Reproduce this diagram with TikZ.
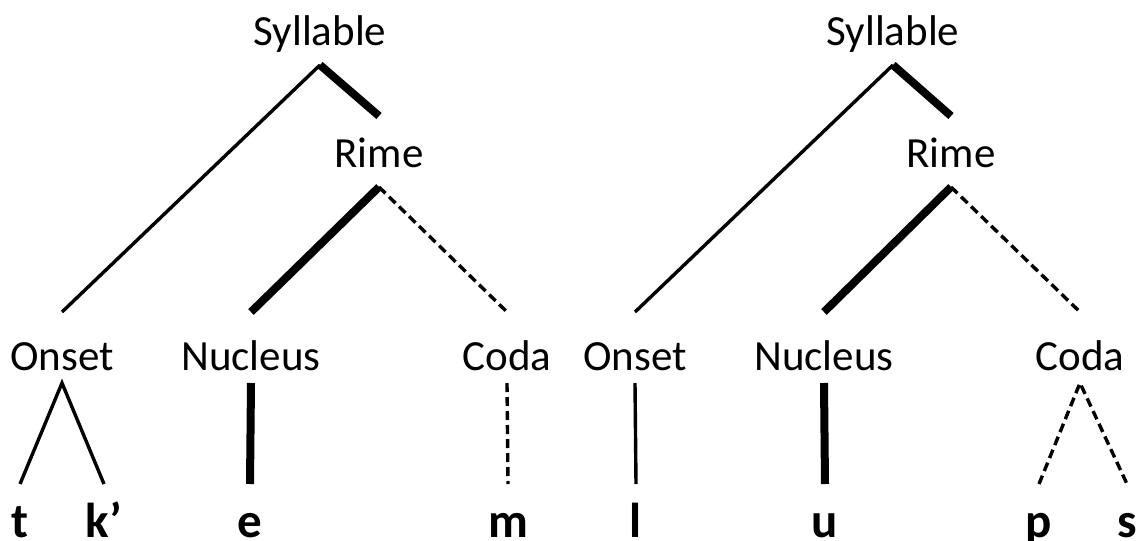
\documentclass[tikz,border=0pt]{standalone}
\usepackage{fontspec}
\setmainfont{Carlito}
\begin{document}
\begin{tikzpicture}[x=1pt,y=-1pt,
  lbl/.style={inner sep=0pt, outer sep=0pt, anchor=base, font=\fontsize{43}{50}\selectfont},
  toplbl/.style={lbl, text height=32pt, text depth=20pt},
  rimelbl/.style={lbl, text height=51pt, text depth=20pt},
  midlbl/.style={lbl, text height=58pt, text depth=13pt},
  leaf/.style={inner sep=0pt, outer sep=0pt, anchor=base, font=\fontsize{49}{56}\selectfont\bfseries, text height=53pt, text depth=0pt},
  thinline/.style={line width=3.4pt},
  thickline/.style={line width=8pt},
  dashline/.style={line width=3.4pt, dash pattern=on 9pt off 5pt}]
\useasboundingbox (0,0) rectangle (1136,541);
% left tree
\node[toplbl] (SylL) at (320,45) {Syllable};
\node[rimelbl] (RimeL) at (379,167) {Rime};
\node[midlbl] (OnL) at (62,370) {Onset};
\node[midlbl] (NucL) at (251,370) {Nucleus};
\node[midlbl] (CodL) at (507,370) {Coda};
\node[leaf] (tL) at (20,537) {t};
\node[leaf] (kL) at (104,537) {k’};
\node[leaf] (eL) at (250,537) {e};
\node[leaf] (mL) at (508,537) {m};
\draw[thinline] (OnL.north) -- (SylL.south);
\draw[thickline] (SylL.south) -- (RimeL.north);
\draw[thickline] (RimeL.south) -- (NucL.north);
\draw[dashline] (RimeL.south) -- (CodL.north);
\draw[thinline] (tL.north) -- (OnL.south) -- (kL.north);
\draw[thickline] (NucL.south) -- (eL.north);
\draw[dashline] (CodL.south) -- (mL.north);
% right tree
\node[toplbl] (SylR) at (893,45) {Syllable};
\node[rimelbl] (RimeR) at (951,167) {Rime};
\node[midlbl] (OnR) at (635,370) {Onset};
\node[midlbl] (NucR) at (824,370) {Nucleus};
\node[midlbl] (CodR) at (1080,370) {Coda};
\node[leaf] (lR) at (636,537) {l};
\node[leaf] (uR) at (825,537) {u};
\node[leaf] (pR) at (1039,537) {p};
\node[leaf] (sR) at (1127,537) {s};
\draw[thinline] (OnR.north) -- (SylR.south);
\draw[thickline] (SylR.south) -- (RimeR.north);
\draw[thickline] (RimeR.south) -- (NucR.north);
\draw[dashline] (RimeR.south) -- (CodR.north);
\draw[thinline] (OnR.south) -- (lR.north);
\draw[thickline] (NucR.south) -- (uR.north);
\draw[dashline] (pR.north) -- (CodR.south) -- (sR.north);
\end{tikzpicture}
\end{document}
